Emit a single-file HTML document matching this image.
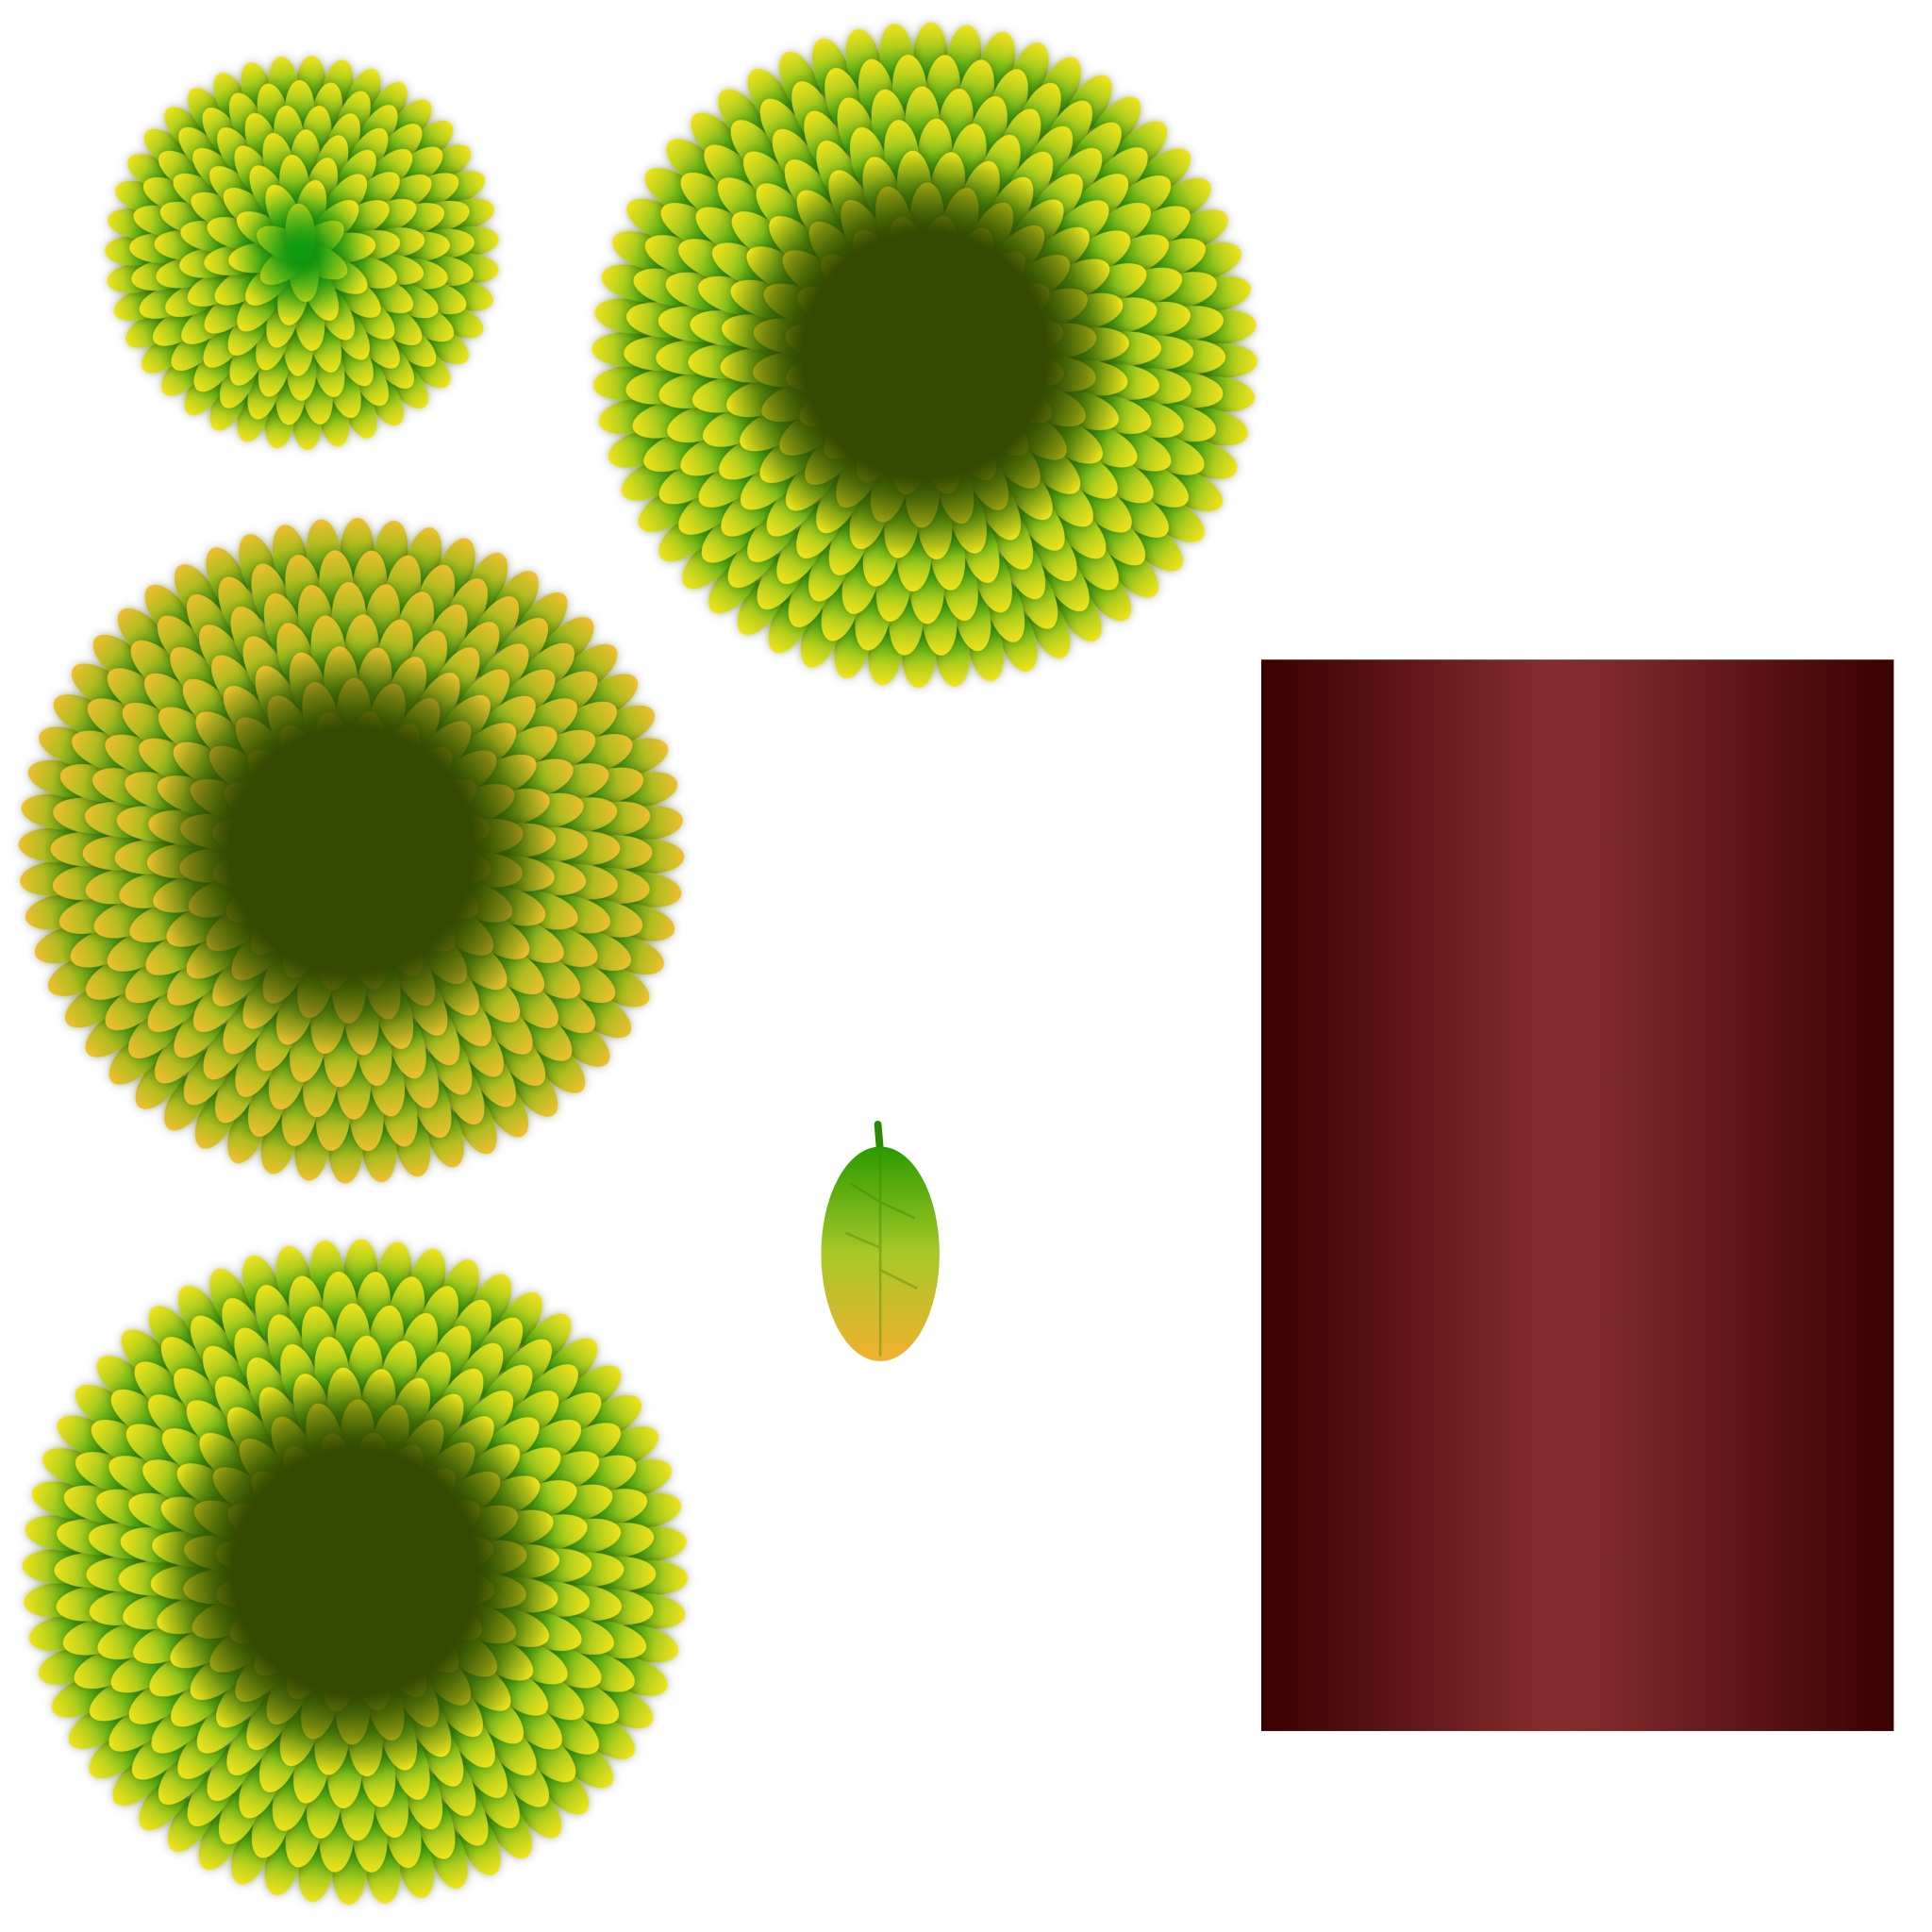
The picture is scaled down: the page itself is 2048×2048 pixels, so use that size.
<!DOCTYPE html>
<html><head><meta charset="utf-8"><style>
html,body{margin:0;padding:0;background:#fff;width:2048px;height:2048px;overflow:hidden}
svg{display:block}
</style></head><body>
<svg id="s" width="2048" height="2048" viewBox="0 0 1567 1567" xmlns="http://www.w3.org/2000/svg">
<defs>
<linearGradient id="lgA" x1="0" y1="0" x2="0" y2="1"><stop offset="0" stop-color="#f2e41a"/><stop offset="0.3" stop-color="#b6d01c"/><stop offset="0.7" stop-color="#3aa616"/><stop offset="1" stop-color="#1a9212"/></linearGradient>
<linearGradient id="lgB" x1="0" y1="0" x2="0" y2="1"><stop offset="0" stop-color="#f0c030"/><stop offset="0.35" stop-color="#b0bc20"/><stop offset="0.75" stop-color="#3a9a14"/><stop offset="1" stop-color="#1a9010"/></linearGradient>
<linearGradient id="lgS" x1="0" y1="0" x2="0" y2="1"><stop offset="0" stop-color="#2a9a00"/><stop offset="0.5" stop-color="#a8c828"/><stop offset="1" stop-color="#f2b030"/></linearGradient>
<radialGradient id="dark"><stop offset="0" stop-color="#334a00"/><stop offset="0.6" stop-color="#334a00"/><stop offset="0.8" stop-color="#334a00" stop-opacity="0.55"/><stop offset="1" stop-color="#334a00" stop-opacity="0"/></radialGradient>
<radialGradient id="greenc"><stop offset="0" stop-color="#0a9a10"/><stop offset="1" stop-color="#0a9a10" stop-opacity="0"/></radialGradient>
<linearGradient id="trunk" x1="0" y1="0" x2="1" y2="0"><stop offset="0" stop-color="#3a0000"/><stop offset="0.45" stop-color="#852c2e"/><stop offset="0.55" stop-color="#7e292b"/><stop offset="1" stop-color="#3a0000"/></linearGradient>
<filter id="sh" x="-50%" y="-50%" width="200%" height="200%"><feDropShadow dx="0" dy="2" stdDeviation="4" flood-color="#2a3a00" flood-opacity="0.6"/></filter>
</defs>
<g id="clusters"></g>
<g>
<line x1="712" y1="912" x2="714" y2="935" stroke="#2a8a00" stroke-width="6" stroke-linecap="round"/>
<ellipse cx="714" cy="1017" rx="48" ry="87" fill="url(#lgS)"/>
<path d="M714 935 L714 1100 M714 975 L690 960 M714 975 L742 988 M714 1012 L686 1000 M714 1030 L744 1045" stroke="#3a7a00" stroke-opacity="0.35" stroke-width="2" fill="none"/>
</g>
<rect x="1023" y="535" width="513" height="869" fill="url(#trunk)"/>
</svg>
<script>
const clusterCx=[245,750,285,288];
const clusterCy=[205,288,690,1275];
const clusterR=[160,270,270,270];
const g=document.getElementById('clusters');
const NS='http://www.w3.org/2000/svg';
function cluster(i){
  const cx=clusterCx[i],cy=clusterCy[i],R=clusterR[i];
  const grp=document.createElementNS(NS,'g');
  
  
  const small=R<200;
  const L=small?24:29, W=small?12:14;
  const grad=i==2?'url(#lgB)':'url(#lgA)';
  const step=small?20:26, sp=small?22:27;
  for(let r=R-L;r>(small?12:70);r-=step){
    const n=Math.max(6,Math.round(2*Math.PI*r/sp));
    const off=(r*0.37)%1;
    for(let k=0;k<n;k++){
      const a=(k+off)/n*360;
      const e=document.createElementNS(NS,'ellipse');
      
      
      e.setAttribute('cx',0);e.setAttribute('cy',-r);
      e.setAttribute('rx',W);e.setAttribute('ry',L);
      e.setAttribute('fill',grad);
      e.setAttribute('filter','url(#sh)');
      e.setAttribute('transform','translate('+cx+' '+cy+') rotate('+a+')');
      grp.appendChild(e);
    }
  }
  const c=document.createElementNS(NS,'circle');
  
  
  c.setAttribute('cx',cx);c.setAttribute('cy',cy);
  c.setAttribute('r',small?55:165);
  c.setAttribute('fill',small?'url(#greenc)':'url(#dark)');
  grp.appendChild(c);
  g.appendChild(grp);
}
for(let i=0;i<clusterCx.length;i++)cluster(i);
</script>
</body></html>
